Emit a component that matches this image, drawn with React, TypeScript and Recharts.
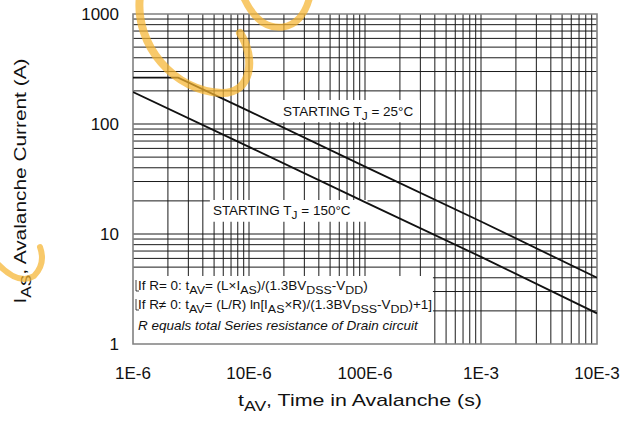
import React from "react";
import { LineChart, Line, XAxis, YAxis, ReferenceLine, ReferenceArea, Label } from "recharts";

// axis ticks
const timeTicks = [1e-6, 1e-5, 1e-4, 1e-3, 1e-2];
const timeTickLabels = ["1E-6", "10E-6", "100E-6", "1E-3", "10E-3"];
const currentTicks = [1, 10, 100, 1000];
const currentTickLabels = ["1", "10", "100", "1000"];

// STARTING TJ = 25°C (flat at the top, then falls)
const t25 = [1e-6, 2.45e-6, 1e-5, 1e-4, 1e-3, 1e-2];
const i25 = [264, 264, 131, 41, 13, 4];

// STARTING TJ = 150°C
const t150 = [1e-6, 1e-5, 1e-4, 1e-3, 1e-2];
const i150 = [195, 62, 19.5, 6.2, 1.9];

// log grid: 1..9 in each decade
const steps = [1, 2, 3, 4, 5, 6, 7, 8, 9];
const gridT = [1e-6, 1e-5, 1e-4, 1e-3].flatMap((d) => steps.map((m) => m * d)).filter((v) => v > 1e-6);
const gridI = [1, 10, 100].flatMap((d) => steps.map((m) => m * d)).filter((v) => v > 1);

const data25 = t25.map((t, i) => ({ t, i: i25[i] }));
const data150 = t150.map((t, i) => ({ t, i: i150[i] }));

const FONT = "'Liberation Sans', Arial, sans-serif";
const INK = "#111";

// text runs: [text, isSubscript]
type Seg = [string, boolean?];
const rich = (segs: Seg[], subSize: number, shift: number) => {
  let prevSub = false;
  return segs.map(([s, sub], k) => {
    const dy = sub ? (prevSub ? 0 : shift) : prevSub ? -shift : 0;
    prevSub = !!sub;
    return (
      <tspan key={k} dy={dy || undefined} fontSize={sub ? subSize : undefined}>
        {s}
      </tspan>
    );
  });
};

const XTick = (p: any) => {
  const k = timeTicks.findIndex((v) => Math.abs(v - p.payload.value) < v * 1e-6);
  return (
    <text x={p.x} y={p.y + 27} textAnchor="middle" fontSize={17} fontFamily={FONT} fill={INK}>
      {timeTickLabels[k]}
    </text>
  );
};

const YTick = (p: any) => {
  const k = currentTicks.indexOf(p.payload.value);
  return (
    <text x={p.x - 6} y={p.y + 6} textAnchor="end" fontSize={17} fontFamily={FONT} fill={INK}>
      {currentTickLabels[k]}
    </text>
  );
};

const STRETCH = 1.08;

const startingLabel = (temp: string, dx: number, dy: number) => (props: any) => {
  const vb = props.viewBox;
  return (
    <g transform={`translate(${vb.x + dx},${vb.y + dy}) scale(${STRETCH},1)`}>
      <text x={0} y={0} fontSize={12.5} fontFamily={FONT} fill={INK}>
        {rich([["STARTING  T"], ["J", true], [" = " + temp]], 11, 4)}
      </text>
    </g>
  );
};

const formulaLabel = (props: any) => {
  const vb = props.viewBox;
  const x = vb.x + 5;
  const y = vb.y;
  const bracket = (by: number) => (
    <path d={`M ${x - 2} ${by - 10} L ${x - 2} ${by + 1} L ${x + 1} ${by + 1}`} stroke={INK} strokeWidth={0.8} fill="none" />
  );
  return (
    <g>
      {bracket(y + 14)}
      {bracket(y + 33)}
      <g transform={`translate(${x},${y}) scale(${STRETCH},1)`} fontFamily={FONT} fill={INK} fontSize={12.5}>
        <text x={0} y={14}>
          {rich(
            [["If R= 0: t"], ["AV", true], ["= (L\u00d7I"], ["AS", true], [")/(1.3BV"], ["DSS", true], ["-V"], ["DD", true], [")"]],
            11.5,
            4
          )}
        </text>
        <text x={0} y={33}>
          {rich(
            [
              ["If R\u2260 0: t"],
              ["AV", true],
              ["= (L/R) ln[I"],
              ["AS", true],
              ["\u00d7R)/(1.3BV"],
              ["DSS", true],
              ["-V"],
              ["DD", true],
              [")+1]"],
            ],
            11.5,
            4
          )}
        </text>
        <text x={0} y={54} fontStyle="italic">
          R equals total Series resistance of Drain circuit
        </text>
      </g>
    </g>
  );
};

const XTitle = (props: any) => {
  const vb = props.viewBox || { x: 133, y: 344, width: 464 };
  return (
    <text
      x={vb.x + vb.width / 2 - 5}
      y={vb.y + 62}
      textAnchor="middle"
      fontSize={17}
      fontFamily={FONT}
      fill={INK}
      textLength={244}
      lengthAdjust="spacingAndGlyphs"
    >
      {rich([["t"], ["AV", true], [", Time in Avalanche (s)"]], 14, 5)}
    </text>
  );
};

const YTitle = () => (
  <text
    x={0}
    y={0}
    transform="translate(26,181) rotate(-90)"
    textAnchor="middle"
    fontSize={17}
    fontFamily={FONT}
    fill={INK}
    textLength={245}
    lengthAdjust="spacingAndGlyphs"
  >
    {rich([["I"], ["AS", true], [", Avalanche Current (A)"]], 14, 5)}
  </text>
);

export default function App() {
  return (
    <div style={{ position: "absolute", left: 0, top: 0, width: 632, height: 432, background: "#fff" }}>
      <LineChart width={632} height={432} margin={{ top: 14, right: 35, left: 0, bottom: 0 }}>
        <XAxis
          dataKey="t"
          type="number"
          scale="log"
          domain={[1e-6, 1e-2]}
          ticks={timeTicks}
          allowDataOverflow
          axisLine={false}
          tickLine={false}
          tick={XTick}
          height={88}
          interval={0}
        >
          <Label content={XTitle} />
        </XAxis>
        <YAxis
          type="number"
          scale="log"
          domain={[1, 1000]}
          ticks={currentTicks}
          allowDataOverflow
          axisLine={false}
          tickLine={false}
          tick={YTick}
          width={133}
          interval={0}
        >
          <Label content={YTitle} />
        </YAxis>

        {gridT.map((v) => (
          <ReferenceLine key={"x" + v} x={v} stroke="#1a1a1a" strokeWidth={1} zIndex={300} />
        ))}
        {gridI.map((v) => (
          <ReferenceLine key={"y" + v} y={v} stroke="#1a1a1a" strokeWidth={1} zIndex={300} />
        ))}

        <ReferenceArea x1={17.8e-6} x2={298e-6} y1={104} y2={165} fill="#fff" fillOpacity={1} stroke="none" zIndex={350} label={startingLabel("25\u00b0C", 5, 16)} />
        <ReferenceArea x1={4.6e-6} x2={105e-6} y1={12.9} y2={20.4} fill="#fff" fillOpacity={1} stroke="none" zIndex={350} label={startingLabel("150\u00b0C", 3, 15)} />
        <ReferenceArea x1={1e-6} x2={385e-6} y1={1} y2={4.15} fill="#fff" fillOpacity={1} stroke="none" zIndex={350} label={formulaLabel} />

        <ReferenceArea x1={1e-6} x2={1e-2} y1={1} y2={1000} fill="none" stroke="#808080" strokeWidth={1.6} zIndex={360} />

        <Line data={data25} dataKey="i" type="linear" stroke={INK} strokeWidth={1.8} dot={false} isAnimationActive={false} />
        <Line data={data150} dataKey="i" type="linear" stroke={INK} strokeWidth={1.8} dot={false} isAnimationActive={false} />
      </LineChart>
      <svg width={632} height={432} style={{ position: "absolute", left: 0, top: 0, pointerEvents: "none" }}>
        <g fill="none" stroke="#f5b430" strokeOpacity={0.72} strokeLinecap="round">
          <path d="M 140 -4 C 134 45 175 92 222 93 C 252 93 256 58 240 33" strokeWidth={8} />
          <path d="M 243 -4 Q 258 30 283 27 Q 303 24 310 -4" strokeWidth={7} />
          <path d="M -4 262 Q 18 286 34 276 Q 46 264 40 247" strokeWidth={6} />
        </g>
      </svg>
    </div>
  );
}
